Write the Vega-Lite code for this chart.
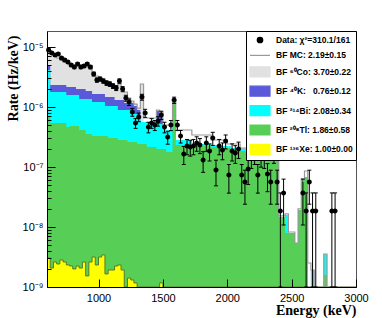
{
"$schema": "https://vega.github.io/schema/vega-lite/v6.json",
"width": 309, "height": 256,
"autosize": {"type": "none"},
"padding": {"left": 47, "top": 31, "right": 26, "bottom": 31},
"background": "white",
"config": {"font": "Liberation Sans", "view": {"stroke": "#555555", "strokeWidth": 1}},
"resolve": {"axis": {"y": "independent"}},
"data": {"values": [
{"e":600,"m":7.94e-6,"co":7.94e-6,"k":5.01e-6,"bi":4.14e-6,"tl":6.81e-7,"xe":3.04e-9,"c":612.5,"d":8.91e-6,"lo":8.51e-6,"hi":9.32e-6},
{"e":625,"m":7.64e-6,"co":7.64e-6,"k":2.33e-6,"bi":1.78e-6,"tl":5.41e-7,"xe":2.07e-9,"c":637.5,"d":7.94e-6,"lo":7.56e-6,"hi":8.33e-6},
{"e":650,"m":7.08e-6,"co":7.08e-6,"k":2.33e-6,"bi":1.78e-6,"tl":5.41e-7,"xe":2.61e-9,"c":662.5,"d":7.36e-6,"lo":6.99e-6,"hi":7.72e-6},
{"e":675,"m":6.56e-6,"co":6.56e-6,"k":2.33e-6,"bi":1.78e-6,"tl":5.41e-7,"xe":2.42e-9,"c":687.5,"d":7.64e-6,"lo":7.27e-6,"hi":8.02e-6},
{"e":700,"m":6.07e-6,"co":6.07e-6,"k":2.33e-6,"bi":1.78e-6,"tl":5.41e-7,"xe":2.82e-9,"c":712.5,"d":6.56e-6,"lo":6.21e-6,"hi":6.9e-6},
{"e":725,"m":5.62e-6,"co":5.62e-6,"k":2.33e-6,"bi":1.78e-6,"tl":5.41e-7,"xe":2.61e-9,"c":737.5,"d":6.07e-6,"lo":5.74e-6,"hi":6.41e-6},
{"e":750,"m":5.41e-6,"co":5.41e-6,"k":2.15e-6,"bi":1.59e-6,"tl":4.64e-7,"xe":2.33e-9,"c":762.5,"d":5.62e-6,"lo":5.3e-6,"hi":5.95e-6},
{"e":775,"m":5.21e-6,"co":5.21e-6,"k":2.15e-6,"bi":1.59e-6,"tl":4.82e-7,"xe":2.24e-9,"c":787.5,"d":5.01e-6,"lo":4.71e-6,"hi":5.32e-6},
{"e":800,"m":5.01e-6,"co":5.01e-6,"k":2.15e-6,"bi":1.59e-6,"tl":4.82e-7,"xe":2.0e-9,"c":812.5,"d":4.64e-6,"lo":4.35e-6,"hi":4.94e-6},
{"e":825,"m":5.01e-6,"co":5.01e-6,"k":2.0e-6,"bi":1.59e-6,"tl":4.82e-7,"xe":2.24e-9,"c":837.5,"d":5.21e-6,"lo":4.9e-6,"hi":5.52e-6},
{"e":850,"m":5.01e-6,"co":5.01e-6,"k":2.0e-6,"bi":1.36e-6,"tl":4.14e-7,"xe":2.07e-9,"c":862.5,"d":4.64e-6,"lo":4.35e-6,"hi":4.94e-6},
{"e":875,"m":4.82e-6,"co":4.82e-6,"k":2.0e-6,"bi":1.36e-6,"tl":4.14e-7,"xe":2.61e-9,"c":887.5,"d":4.82e-6,"lo":4.52e-6,"hi":5.12e-6},
{"e":900,"m":4.64e-6,"co":4.64e-6,"k":1.85e-6,"bi":1.36e-6,"tl":3.55e-7,"xe":1.53e-9,"c":912.5,"d":5.21e-6,"lo":4.9e-6,"hi":5.52e-6},
{"e":925,"m":4.3e-6,"co":4.3e-6,"k":1.85e-6,"bi":1.36e-6,"tl":3.55e-7,"xe":2.61e-9,"c":937.5,"d":4.64e-6,"lo":4.35e-6,"hi":4.94e-6},
{"e":950,"m":3.83e-6,"co":3.83e-6,"k":1.65e-6,"bi":1.21e-6,"tl":3.29e-7,"xe":3.16e-9,"c":962.5,"d":3.55e-6,"lo":3.29e-6,"hi":3.8e-6},
{"e":975,"m":3.29e-6,"co":3.29e-6,"k":1.65e-6,"bi":1.21e-6,"tl":3.29e-7,"xe":2.33e-9,"c":987.5,"d":2.82e-6,"lo":2.59e-6,"hi":3.05e-6},
{"e":1000,"m":3.04e-6,"co":3.04e-6,"k":1.65e-6,"bi":1.21e-6,"tl":3.29e-7,"xe":3.16e-9,"c":1012.5,"d":2.93e-6,"lo":2.7e-6,"hi":3.16e-6},
{"e":1025,"m":2.82e-6,"co":2.82e-6,"k":1.65e-6,"bi":1.21e-6,"tl":3.29e-7,"xe":3.42e-9,"c":1037.5,"d":2.71e-6,"lo":2.49e-6,"hi":2.94e-6},
{"e":1050,"m":2.61e-6,"co":2.61e-6,"k":1.47e-6,"bi":1.04e-6,"tl":3.29e-7,"xe":1.65e-9,"c":1062.5,"d":2.51e-6,"lo":2.3e-6,"hi":2.73e-6},
{"e":1075,"m":2.51e-6,"co":2.51e-6,"k":1.47e-6,"bi":1.04e-6,"tl":3.04e-7,"xe":1.92e-9,"c":1087.5,"d":2.42e-6,"lo":2.21e-6,"hi":2.63e-6},
{"e":1100,"m":2.33e-6,"co":2.33e-6,"k":1.47e-6,"bi":1.04e-6,"tl":3.04e-7,"xe":1.92e-9,"c":1112.5,"d":2.24e-6,"lo":2.04e-6,"hi":2.44e-6},
{"e":1125,"m":2.15e-6,"co":2.15e-6,"k":1.31e-6,"bi":1.04e-6,"tl":3.04e-7,"xe":2.24e-9,"c":1137.5,"d":2.07e-6,"lo":1.88e-6,"hi":2.27e-6},
{"e":1150,"m":2.42e-6,"co":2.42e-6,"k":1.31e-6,"bi":8.91e-7,"tl":2.82e-7,"xe":2.33e-9,"c":1162.5,"d":2.71e-6,"lo":2.49e-6,"hi":2.94e-6},
{"e":1175,"m":2.07e-6,"co":2.07e-6,"k":1.31e-6,"bi":8.91e-7,"tl":2.82e-7,"xe":1.92e-9,"c":1187.5,"d":2.0e-6,"lo":1.8e-6,"hi":2.19e-6},
{"e":1200,"m":1.78e-6,"co":1.78e-6,"k":1.17e-6,"bi":8.91e-7,"tl":2.82e-7,"xe":1e-10,"c":1212.5,"d":1.41e-6,"lo":1.25e-6,"hi":1.57e-6},
{"e":1225,"m":1.41e-6,"co":1.41e-6,"k":1.17e-6,"bi":8.91e-7,"tl":2.61e-7,"xe":1.41e-9,"c":1237.5,"d":1.21e-6,"lo":1.06e-6,"hi":1.36e-6},
{"e":1250,"m":1.26e-6,"co":1.26e-6,"k":1.17e-6,"bi":7.64e-7,"tl":2.61e-7,"xe":1.31e-9,"c":1262.5,"d":8.25e-7,"lo":7.02e-7,"hi":9.49e-7},
{"e":1275,"m":1.12e-6,"co":1.12e-6,"k":1.04e-6,"bi":7.64e-7,"tl":2.61e-7,"xe":1.17e-9,"c":1287.5,"d":5.41e-7,"lo":4.41e-7,"hi":6.41e-7},
{"e":1300,"m":9.62e-7,"co":9.62e-7,"k":8.91e-7,"bi":6.56e-7,"tl":2.42e-7,"xe":1e-10,"c":1312.5,"d":6.81e-7,"lo":5.69e-7,"hi":7.94e-7},
{"e":1325,"m":2.42e-6,"co":2.42e-6,"k":5.62e-7,"bi":5.62e-7,"tl":2.42e-7,"xe":1e-10,"c":1337.5,"d":1.47e-6,"lo":1.3e-6,"hi":1.63e-6},
{"e":1350,"m":6.56e-7,"co":5.62e-7,"k":5.62e-7,"bi":5.62e-7,"tl":2.42e-7,"xe":1e-10,"c":1362.5,"d":7.94e-7,"lo":6.73e-7,"hi":9.16e-7},
{"e":1375,"m":6.56e-7,"co":5.62e-7,"k":5.62e-7,"bi":5.62e-7,"tl":2.15e-7,"xe":1e-10,"c":1387.5,"d":4.64e-7,"lo":3.71e-7,"hi":5.57e-7},
{"e":1400,"m":6.56e-7,"co":5.62e-7,"k":5.62e-7,"bi":5.62e-7,"tl":2.15e-7,"xe":1e-10,"c":1412.5,"d":5.41e-7,"lo":4.41e-7,"hi":6.41e-7},
{"e":1425,"m":6.56e-7,"co":5.62e-7,"k":5.62e-7,"bi":5.62e-7,"tl":2.15e-7,"xe":1e-10,"c":1437.5,"d":5.01e-7,"lo":4.05e-7,"hi":5.97e-7},
{"e":1450,"m":8.91e-7,"co":8.58e-7,"k":8.58e-7,"bi":5.21e-7,"tl":2.0e-7,"xe":1e-10,"c":1462.5,"d":5.84e-7,"lo":4.8e-7,"hi":6.88e-7},
{"e":1475,"m":8.25e-7,"co":7.94e-7,"k":7.94e-7,"bi":5.21e-7,"tl":2.0e-7,"xe":1.17e-9,"c":1487.5,"d":7.36e-7,"lo":6.19e-7,"hi":8.52e-7},
{"e":1500,"m":5.01e-7,"co":4.64e-7,"k":4.64e-7,"bi":4.64e-7,"tl":2.0e-7,"xe":1e-10,"c":1512.5,"d":4.64e-7,"lo":3.71e-7,"hi":5.57e-7},
{"e":1525,"m":5.01e-7,"co":4.14e-7,"k":4.14e-7,"bi":4.14e-7,"tl":1.78e-7,"xe":1e-10,"c":1537.5,"d":3.16e-7,"lo":2.4e-7,"hi":3.93e-7},
{"e":1550,"m":5.01e-7,"co":4.14e-7,"k":4.14e-7,"bi":4.14e-7,"tl":1.78e-7,"xe":1e-10,"c":1562.5,"d":5.01e-7,"lo":4.05e-7,"hi":5.97e-7},
{"e":1575,"m":1.31e-6,"co":1.26e-6,"k":1.26e-6,"bi":1.26e-6,"tl":1.26e-6,"xe":1e-10,"c":1587.5,"d":1.31e-6,"lo":1.15e-6,"hi":1.46e-6},
{"e":1600,"m":4.14e-7,"co":2.82e-7,"k":2.82e-7,"bi":2.82e-7,"tl":2.33e-7,"xe":1e-10,"c":1612.5,"d":5.01e-7,"lo":4.05e-7,"hi":5.97e-7},
{"e":1625,"m":4.14e-7,"co":2.82e-7,"k":2.82e-7,"bi":2.82e-7,"tl":2.33e-7,"xe":1e-10,"c":1637.5,"d":3.29e-7,"lo":2.51e-7,"hi":4.06e-7},
{"e":1650,"m":4.14e-7,"co":2.82e-7,"k":2.82e-7,"bi":2.82e-7,"tl":2.33e-7,"xe":1e-10,"c":1662.5,"d":1.65e-7,"lo":1.1e-7,"hi":2.2e-7},
{"e":1675,"m":4.14e-7,"co":2.82e-7,"k":2.82e-7,"bi":2.82e-7,"tl":2.33e-7,"xe":1e-10,"c":1687.5,"d":2.24e-7,"lo":1.6e-7,"hi":2.88e-7},
{"e":1700,"m":4.14e-7,"co":2.82e-7,"k":2.82e-7,"bi":2.82e-7,"tl":2.33e-7,"xe":1e-10,"c":1712.5,"d":2.15e-7,"lo":1.52e-7,"hi":2.79e-7},
{"e":1725,"m":3.42e-7,"co":2.51e-7,"k":2.51e-7,"bi":2.51e-7,"tl":2.33e-7,"xe":1e-10,"c":1737.5,"d":2.24e-7,"lo":1.6e-7,"hi":2.88e-7},
{"e":1750,"m":3.42e-7,"co":2.51e-7,"k":2.51e-7,"bi":2.51e-7,"tl":2.24e-7,"xe":1e-10,"c":1762.5,"d":2.51e-7,"lo":1.83e-7,"hi":3.19e-7},
{"e":1775,"m":3.42e-7,"co":2.51e-7,"k":2.51e-7,"bi":2.51e-7,"tl":2.24e-7,"xe":1e-10,"c":1787.5,"d":2.33e-7,"lo":1.67e-7,"hi":2.98e-7},
{"e":1800,"m":3.42e-7,"co":2.42e-7,"k":2.42e-7,"bi":2.42e-7,"tl":2.24e-7,"xe":1e-10,"c":1812.5,"d":1.31e-7,"lo":8.16e-8,"hi":1.8e-7},
{"e":1825,"m":3.42e-7,"co":2.42e-7,"k":2.42e-7,"bi":2.42e-7,"tl":2.24e-7,"xe":1e-10,"c":1837.5,"d":2.51e-7,"lo":1.83e-7,"hi":3.19e-7},
{"e":1850,"m":3.42e-7,"co":2.42e-7,"k":2.42e-7,"bi":2.42e-7,"tl":2.24e-7,"xe":1e-10,"c":1862.5,"d":1.85e-7,"lo":1.26e-7,"hi":2.43e-7},
{"e":1875,"m":2.82e-7,"co":2.33e-7,"k":2.33e-7,"bi":2.33e-7,"tl":2.15e-7,"xe":1e-10,"c":1887.5,"d":3.04e-7,"lo":2.29e-7,"hi":3.79e-7},
{"e":1900,"m":2.82e-7,"co":2.33e-7,"k":2.33e-7,"bi":2.33e-7,"tl":2.15e-7,"xe":1e-10,"c":1912.5,"d":8.91e-8,"lo":4.86e-8,"hi":1.3e-7},
{"e":1925,"m":2.82e-7,"co":2.33e-7,"k":2.33e-7,"bi":2.33e-7,"tl":2.15e-7,"xe":1e-10,"c":1937.5,"d":2.24e-7,"lo":1.6e-7,"hi":2.88e-7},
{"e":1950,"m":2.82e-7,"co":2.24e-7,"k":2.24e-7,"bi":2.24e-7,"tl":2.07e-7,"xe":1e-10,"c":1962.5,"d":1.92e-7,"lo":1.32e-7,"hi":2.52e-7},
{"e":1975,"m":2.82e-7,"co":2.24e-7,"k":2.24e-7,"bi":2.24e-7,"tl":2.07e-7,"xe":1e-10,"c":1987.5,"d":2.71e-7,"lo":2.0e-7,"hi":3.42e-7},
{"e":2000,"m":2.42e-7,"co":2.24e-7,"k":2.24e-7,"bi":2.24e-7,"tl":2.07e-7,"xe":1e-10,"c":2012.5,"d":7.36e-8,"lo":3.67e-8,"hi":1.1e-7},
{"e":2025,"m":2.42e-7,"co":2.07e-7,"k":2.07e-7,"bi":2.07e-7,"tl":1.92e-7,"xe":1e-10,"c":2037.5,"d":1.85e-7,"lo":1.26e-7,"hi":2.43e-7},
{"e":2050,"m":2.42e-7,"co":2.07e-7,"k":2.07e-7,"bi":2.07e-7,"tl":1.92e-7,"xe":1e-10,"c":2062.5,"d":1.71e-7,"lo":1.15e-7,"hi":2.27e-7},
{"e":2075,"m":2.42e-7,"co":2.07e-7,"k":2.07e-7,"bi":2.07e-7,"tl":1.92e-7,"xe":1e-10,"c":2087.5,"d":2.0e-7,"lo":1.39e-7,"hi":2.6e-7},
{"e":2100,"m":2.07e-7,"co":2.0e-7,"k":2.0e-7,"bi":2.0e-7,"tl":1.85e-7,"xe":1e-10,"c":2112.5,"d":7.36e-8,"lo":3.67e-8,"hi":1.1e-7},
{"e":2125,"m":2.07e-7,"co":2.0e-7,"k":2.0e-7,"bi":2.0e-7,"tl":1.85e-7,"xe":1e-10,"c":2137.5,"d":5.62e-8,"lo":2.4e-8,"hi":8.85e-8},
{"e":2150,"m":2.07e-7,"co":2.0e-7,"k":2.0e-7,"bi":2.0e-7,"tl":1.85e-7,"xe":1e-10,"c":2162.5,"d":9.26e-8,"lo":5.12e-8,"hi":1.34e-7},
{"e":2175,"m":2.07e-7,"co":1.85e-7,"k":1.85e-7,"bi":1.85e-7,"tl":1.71e-7,"xe":1e-10,"c":2187.5,"d":1.47e-7,"lo":9.47e-8,"hi":1.99e-7},
{"e":2200,"m":1.92e-7,"co":1.85e-7,"k":1.85e-7,"bi":1.85e-7,"tl":1.71e-7,"xe":1e-10,"c":2212.5,"d":1.65e-7,"lo":1.1e-7,"hi":2.2e-7},
{"e":2225,"m":1.92e-7,"co":1.85e-7,"k":1.85e-7,"bi":1.85e-7,"tl":1.71e-7,"xe":1e-10,"c":2237.5,"d":7.36e-8,"lo":3.67e-8,"hi":1.1e-7},
{"e":2250,"m":1.85e-7,"co":1.78e-7,"k":1.78e-7,"bi":1.78e-7,"tl":1.65e-7,"xe":1e-10,"c":2262.5,"d":1.53e-7,"lo":9.95e-8,"hi":2.06e-7},
{"e":2275,"m":1.78e-7,"co":1.71e-7,"k":1.71e-7,"bi":1.71e-7,"tl":1.59e-7,"xe":1e-10,"c":2287.5,"d":1.47e-7,"lo":9.47e-8,"hi":1.99e-7},
{"e":2300,"m":1.78e-7,"co":1.71e-7,"k":1.71e-7,"bi":1.71e-7,"tl":1.59e-7,"xe":1e-10,"c":2312.5,"d":7.64e-8,"lo":3.88e-8,"hi":1.14e-7},
{"e":2325,"m":1.78e-7,"co":1.71e-7,"k":1.71e-7,"bi":1.71e-7,"tl":1.59e-7,"xe":1e-10,"c":2337.5,"d":5.62e-8,"lo":2.4e-8,"hi":8.85e-8},
{"e":2350,"m":1.78e-7,"co":1.71e-7,"k":1.71e-7,"bi":1.71e-7,"tl":1.59e-7,"xe":1e-10,"c":2362.5,"d":1.71e-7,"lo":1.15e-7,"hi":2.27e-7},
{"e":2375,"m":1.41e-7,"co":1.36e-7,"k":1.36e-7,"bi":1.36e-7,"tl":1.31e-7,"xe":1e-10,"c":2387.5,"d":5.62e-8,"lo":2.4e-8,"hi":8.85e-8},
{"e":2400,"m":1.53e-8,"co":1.47e-8,"k":1.47e-8,"bi":1.47e-8,"tl":1.47e-8,"xe":1e-10,"c":2412.5,"d":1.85e-8,"lo":1e-10,"hi":3.7e-8},
{"e":2425,"m":1.53e-8,"co":1.47e-8,"k":1.47e-8,"bi":1.47e-8,"tl":1.47e-8,"xe":1e-10,"c":2437.5,"d":3.69e-8,"lo":1.08e-8,"hi":6.29e-8},
{"e":2450,"m":1.65e-8,"co":1.59e-8,"k":1.59e-8,"bi":1.59e-8,"tl":7.94e-9,"xe":1e-10},
{"e":2475,"m":8.25e-9,"co":7.94e-9,"k":7.94e-9,"bi":7.94e-9,"tl":7.94e-9,"xe":1e-10},
{"e":2500,"m":8.25e-9,"co":7.94e-9,"k":7.94e-9,"bi":7.94e-9,"tl":7.94e-9,"xe":1e-10},
{"e":2525,"m":5.41e-9,"co":5.41e-9,"k":5.41e-9,"bi":5.41e-9,"tl":5.41e-9,"xe":1e-10},
{"e":2550,"m":2.0e-8,"co":1.92e-8,"k":1.92e-8,"bi":1.92e-8,"tl":1.92e-8,"xe":1e-10},
{"e":2575,"m":6.31e-8,"co":5.62e-8,"k":5.62e-8,"bi":5.62e-8,"tl":5.62e-8,"xe":1e-10,"c":2587.5,"d":3.69e-8,"lo":1.08e-8,"hi":6.29e-8},
{"e":2600,"m":8.58e-8,"co":6.81e-8,"k":6.81e-8,"bi":6.81e-8,"tl":6.81e-8,"xe":1e-10,"c":2612.5,"d":1.85e-8,"lo":1e-10,"hi":3.7e-8},
{"e":2625,"m":2.51e-9,"co":1e-10,"k":1e-10,"bi":1e-10,"tl":1e-10,"xe":1e-10,"c":2637.5,"d":5.62e-8,"lo":2.4e-8,"hi":8.85e-8},
{"e":2650,"m":1.92e-9,"co":1.92e-9,"k":1.92e-9,"bi":1.92e-9,"tl":1e-10,"xe":1e-10,"c":2662.5,"d":1.85e-8,"lo":1e-10,"hi":3.7e-8},
{"e":2675,"m":1e-10,"co":1e-10,"k":1e-10,"bi":1e-10,"tl":1e-10,"xe":1e-10,"c":2687.5,"d":1.85e-8,"lo":1e-10,"hi":3.7e-8},
{"e":2700,"m":1e-10,"co":1e-10,"k":1e-10,"bi":1e-10,"tl":1e-10,"xe":1e-10},
{"e":2725,"m":1e-10,"co":1e-10,"k":1e-10,"bi":1e-10,"tl":1e-10,"xe":1e-10},
{"e":2750,"m":3.55e-9,"co":3.55e-9,"k":3.55e-9,"bi":3.55e-9,"tl":1.59e-9,"xe":1e-10},
{"e":2775,"m":1e-10,"co":1e-10,"k":1e-10,"bi":1e-10,"tl":1e-10,"xe":1e-10},
{"e":2800,"m":1e-10,"co":1e-10,"k":1e-10,"bi":1e-10,"tl":1e-10,"xe":1e-10,"c":2812.5,"d":1.85e-8,"lo":1e-10,"hi":3.7e-8},
{"e":2825,"m":1e-10,"co":1e-10,"k":1e-10,"bi":1e-10,"tl":1e-10,"xe":1e-10,"c":2837.5,"d":1.85e-8,"lo":1e-10,"hi":3.7e-8},
{"e":2850,"m":1e-10,"co":1e-10,"k":1e-10,"bi":1e-10,"tl":1e-10,"xe":1e-10},
{"e":2875,"m":1e-10,"co":1e-10,"k":1e-10,"bi":1e-10,"tl":1e-10,"xe":1e-10},
{"e":2900,"m":1e-10,"co":1e-10,"k":1e-10,"bi":1e-10,"tl":1e-10,"xe":1e-10},
{"e":2925,"m":1e-10,"co":1e-10,"k":1e-10,"bi":1e-10,"tl":1e-10,"xe":1e-10},
{"e":2950,"m":1e-10,"co":1e-10,"k":1e-10,"bi":1e-10,"tl":1e-10,"xe":1e-10},
{"e":2975,"m":1e-10,"co":1e-10,"k":1e-10,"bi":1e-10,"tl":1e-10,"xe":1e-10},
{"e":3000,"m":1e-10,"co":1e-10,"k":1e-10,"bi":1e-10,"tl":1e-10,"xe":1e-10}
]},
"encoding": {
  "x": {"field": "e", "type": "quantitative",
    "scale": {"domain": [600, 3000], "nice": false, "zero": false},
    "axis": {"values": [1000, 1500, 2000, 2500, 3000], "format": "d", "tickSize": -8, "labelPadding": 13,
      "labelFont": "Liberation Sans", "labelFontSize": 11, "labelColor": "#000000", "labelFlush": false, "labelOverlap": false,
      "domainColor": "#000000", "tickColor": "#000000", "grid": false, "zindex": 1,
      "title": "Energy (keV)", "titleFont": "Liberation Serif", "titleFontSize": 14, "titleFontWeight": "bold", "titleColor": "#000000",
      "titleAnchor": "end", "titleAlign": "right", "titleX": 309, "titleY": 27, "titleBaseline": "alphabetic"}}
},
"layer": [
  {"mark": {"type": "area", "interpolate": "step-after"},
   "encoding": {
     "y": {"field": "co", "type": "quantitative", "stack": null,
       "scale": {"type": "log", "domain": [1e-9, 1.85e-5], "nice": false, "clamp": true},
       "axis": {"orient": "left", "values": [1e-9, 1e-8, 1e-7, 1e-6, 1e-5],
         "labelExpr": "datum.value == 1e-5 ? '10⁻⁵' : datum.value == 1e-6 ? '10⁻⁶' : datum.value == 1e-7 ? '10⁻⁷' : datum.value == 1e-8 ? '10⁻⁸' : datum.value == 1e-9 ? '10⁻⁹' : ''",
         "tickSize": -8, "labelPadding": 12, "labelFont": "Liberation Sans", "labelFontSize": 11, "labelColor": "#000000",
         "labelOverlap": false, "labelFlush": false, "domainColor": "#000000", "tickColor": "#000000", "grid": false, "zindex": 1,
         "title": "Rate (Hz/keV)", "titleFont": "Liberation Serif", "titleFontSize": 14, "titleFontWeight": "bold", "titleColor": "#000000",
         "titleAngle": 270, "titleAlign": "right", "titleBaseline": "bottom", "titleX": -27, "titleY": 4}},
     "color": {"datum": "BF ⁶⁰Co: 3.70±0.22",
       "scale": {"domain": ["Data: χ²=310.1/161", "BF MC: 2.19±0.15", "BF ⁶⁰Co: 3.70±0.22", "BF ⁴⁰K:\u00a0\u00a0\u00a00.76±0.12", "BF ²¹⁴Bi: 2.08±0.34", "BF ²⁰⁸Tl: 1.86±0.58", "BF ¹³⁶Xe: 1.00±0.00"],
                 "range": ["#000000", "#999999", "#e1e1e1", "#5959d9", "#00ffff", "#57cf57", "#ffff00"]},
       "legend": {"title": null, "orient": "top-right", "offset": 0, "padding": 3,
         "strokeColor": "#000000", "fillColor": "#ffffff",
         "symbolSize": 100, "symbolOffset": 5, "labelOffset": 10, "rowPadding": 3.4,
         "symbolStrokeWidth": 1.2, "symbolOpacity": 1,
         "labelFont": "Liberation Sans", "labelFontSize": 8.5, "labelFontWeight": "bold", "labelColor": "#000000", "labelLimit": 300}}
   }},
  {"mark": {"type": "area", "interpolate": "step-after"},
   "encoding": {
     "y": {"field": "k", "type": "quantitative", "stack": null, "scale": {"type": "log", "domain": [1e-9, 1.85e-5], "nice": false, "clamp": true},
       "axis": {"orient": "left", "values": [2e-9,3e-9,4e-9,5e-9,6e-9,7e-9,8e-9,9e-9,2e-8,3e-8,4e-8,5e-8,6e-8,7e-8,8e-8,9e-8,2e-7,3e-7,4e-7,5e-7,6e-7,7e-7,8e-7,9e-7,2e-6,3e-6,4e-6,5e-6,6e-6,7e-6,8e-6,9e-6],
         "labels": false, "domain": false, "title": null, "grid": false, "tickSize": -4, "tickColor": "#000000", "zindex": 1}},
     "color": {"datum": "BF ⁴⁰K:\u00a0\u00a0\u00a00.76±0.12"}}},
  {"mark": {"type": "area", "interpolate": "step-after"},
   "encoding": {
     "y": {"field": "bi", "type": "quantitative", "stack": null, "scale": {"type": "log", "domain": [1e-9, 1.85e-5], "nice": false, "clamp": true}, "axis": null},
     "color": {"datum": "BF ²¹⁴Bi: 2.08±0.34"}}},
  {"mark": {"type": "area", "interpolate": "step-after"},
   "encoding": {
     "y": {"field": "tl", "type": "quantitative", "stack": null, "scale": {"type": "log", "domain": [1e-9, 1.85e-5], "nice": false, "clamp": true}, "axis": null},
     "color": {"datum": "BF ²⁰⁸Tl: 1.86±0.58"}}},
  {"mark": {"type": "area", "interpolate": "step-after"},
   "encoding": {
     "y": {"field": "xe", "type": "quantitative", "stack": null, "scale": {"type": "log", "domain": [1e-9, 1.85e-5], "nice": false, "clamp": true}, "axis": null},
     "color": {"datum": "BF ¹³⁶Xe: 1.00±0.00"}}},
  {"mark": {"type": "line", "interpolate": "step-after", "color": "#5a7a2a", "strokeWidth": 1},
   "encoding": {
     "y": {"field": "xe", "type": "quantitative", "scale": {"type": "log", "domain": [1e-9, 1.85e-5], "nice": false, "clamp": true}, "axis": null}}},
  {"mark": {"type": "line", "interpolate": "step-after", "strokeWidth": 1.2},
   "encoding": {
     "y": {"field": "m", "type": "quantitative", "scale": {"type": "log", "domain": [1e-9, 1.85e-5], "nice": false, "clamp": true}, "axis": null},
     "color": {"datum": "BF MC: 2.19±0.15"}}},
  {"mark": {"type": "rule", "color": "#000000", "strokeWidth": 1},
   "encoding": {
     "x": {"field": "c", "type": "quantitative"},
     "y": {"field": "lo", "type": "quantitative", "scale": {"type": "log", "domain": [1e-9, 1.85e-5], "nice": false, "clamp": true}, "axis": null},
     "y2": {"field": "hi"}}},
  {"mark": {"type": "tick", "orient": "horizontal", "size": 4, "thickness": 1, "color": "#000000", "opacity": 1},
   "encoding": {
     "x": {"field": "c", "type": "quantitative"},
     "y": {"field": "hi", "type": "quantitative", "scale": {"type": "log", "domain": [1e-9, 1.85e-5], "nice": false, "clamp": true}, "axis": null}}},
  {"mark": {"type": "tick", "orient": "horizontal", "size": 4, "thickness": 1, "color": "#000000", "opacity": 1},
   "encoding": {
     "x": {"field": "c", "type": "quantitative"},
     "y": {"field": "lo", "type": "quantitative", "scale": {"type": "log", "domain": [1e-9, 1.85e-5], "nice": false, "clamp": true}, "axis": null}}},
  {"mark": {"type": "point", "filled": true, "size": 83, "opacity": 1, "strokeWidth": 0},
   "encoding": {
     "x": {"field": "c", "type": "quantitative"},
     "y": {"field": "d", "type": "quantitative", "scale": {"type": "log", "domain": [1e-9, 1.85e-5], "nice": false, "clamp": true}, "axis": null},
     "color": {"datum": "Data: χ²=310.1/161"},
     "shape": {"datum": "Data: χ²=310.1/161",
       "scale": {"domain": ["Data: χ²=310.1/161", "BF MC: 2.19±0.15", "BF ⁶⁰Co: 3.70±0.22", "BF ⁴⁰K:\u00a0\u00a0\u00a00.76±0.12", "BF ²¹⁴Bi: 2.08±0.34", "BF ²⁰⁸Tl: 1.86±0.58", "BF ¹³⁶Xe: 1.00±0.00"],
                 "range": ["M-0.55,0A0.55,0.55 0 1,0 0.55,0A0.55,0.55 0 1,0 -0.55,0Z", "M-2,0H2", "M-2,-1H2V1H-2Z", "M-2,-1H2V1H-2Z", "M-2,-1H2V1H-2Z", "M-2,-1H2V1H-2Z", "M-2,-1H2V1H-2Z"]}}}}
]
}
